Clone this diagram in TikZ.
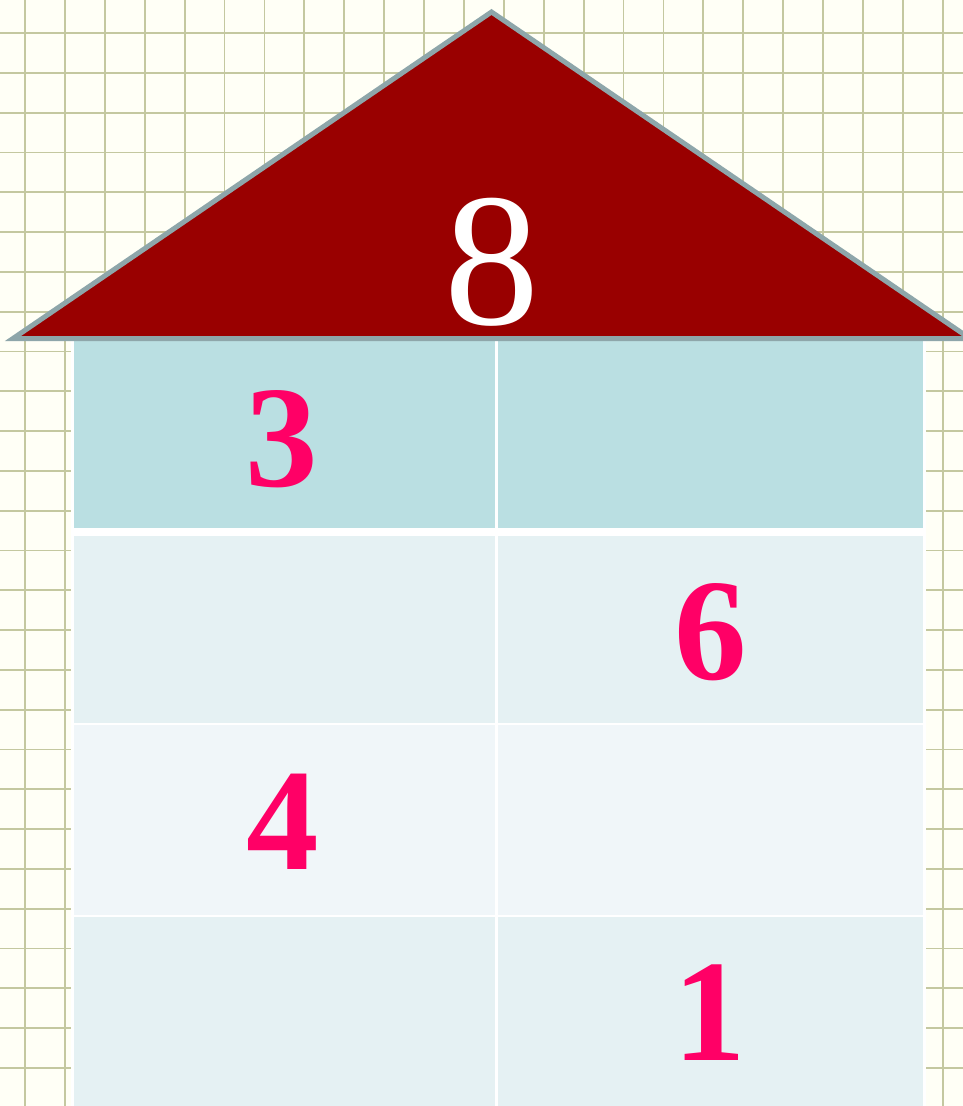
\documentclass[tikz,border=0pt]{standalone}
\usepackage{fontspec}
\setmainfont{Liberation Serif}

\definecolor{paper}{RGB}{255,255,246}
\definecolor{gridline}{RGB}{196,200,160}
\definecolor{roofred}{RGB}{153,0,0}
\definecolor{roofedge}{RGB}{142,166,170}
\definecolor{rowdark}{RGB}{186,223,226}
\definecolor{rowmid}{RGB}{229,241,243}
\definecolor{rowlight}{RGB}{240,246,249}
\definecolor{digitpink}{RGB}{255,0,102}

\tikzset{
  cellnum/.style={inner sep=0pt,text=digitpink,
    font=\fontsize{145}{145}\selectfont\bfseries},
  roofnum/.style={inner sep=0pt,text=white,
    font=\fontsize{190}{190}\selectfont}
}

\begin{document}
\begin{tikzpicture}[x=1pt,y=-1pt]
  % Squared paper
  \fill[paper] (0,0) rectangle (963,1106);
  \useasboundingbox (0,0) rectangle (963,1106);
  \foreach \i in {0,...,24}
    \draw[gridline,line width=1.8pt] ({25+39.9*\i},0) -- ({25+39.9*\i},1106);
  \foreach \j in {0,...,27}
    \draw[gridline,line width=1.8pt] (0,{33+39.8*\j}) -- (963,{33+39.8*\j});

  % Walls
  \fill[white] (71,339) rectangle (926,1106);
  \fill[rowdark]  (74,341)   rectangle (495,528);
  \fill[rowdark]  (497.5,341) rectangle (923,528);
  \fill[rowmid]   (74,536)   rectangle (495,722.7);
  \fill[rowmid]   (497.5,536) rectangle (923,722.7);
  \fill[rowlight] (74,725)   rectangle (495,914.7);
  \fill[rowlight] (497.5,725) rectangle (923,914.7);
  \fill[rowmid]   (74,917)   rectangle (495,1106);
  \fill[rowmid]   (497.5,917) rectangle (923,1106);

  % Roof
  \coordinate (L) at (13,338.5);
  \coordinate (T) at (491.5,12);
  \coordinate (R) at (970,338.5);
  \filldraw[fill=roofred,draw=roofedge,line width=5pt] (L) -- (T) -- (R) -- cycle;
  \node[roofnum] (total) at (492,262) {8};

  % Numbers in the rooms
  \node[cellnum] (a1) at (282,439) {3};
  \node[cellnum] (b2) at (711,632) {6};
  \node[cellnum] (a3) at (283,822) {4};
  \node[cellnum] (b4) at (710,1013) {1};
\end{tikzpicture}
\end{document}
